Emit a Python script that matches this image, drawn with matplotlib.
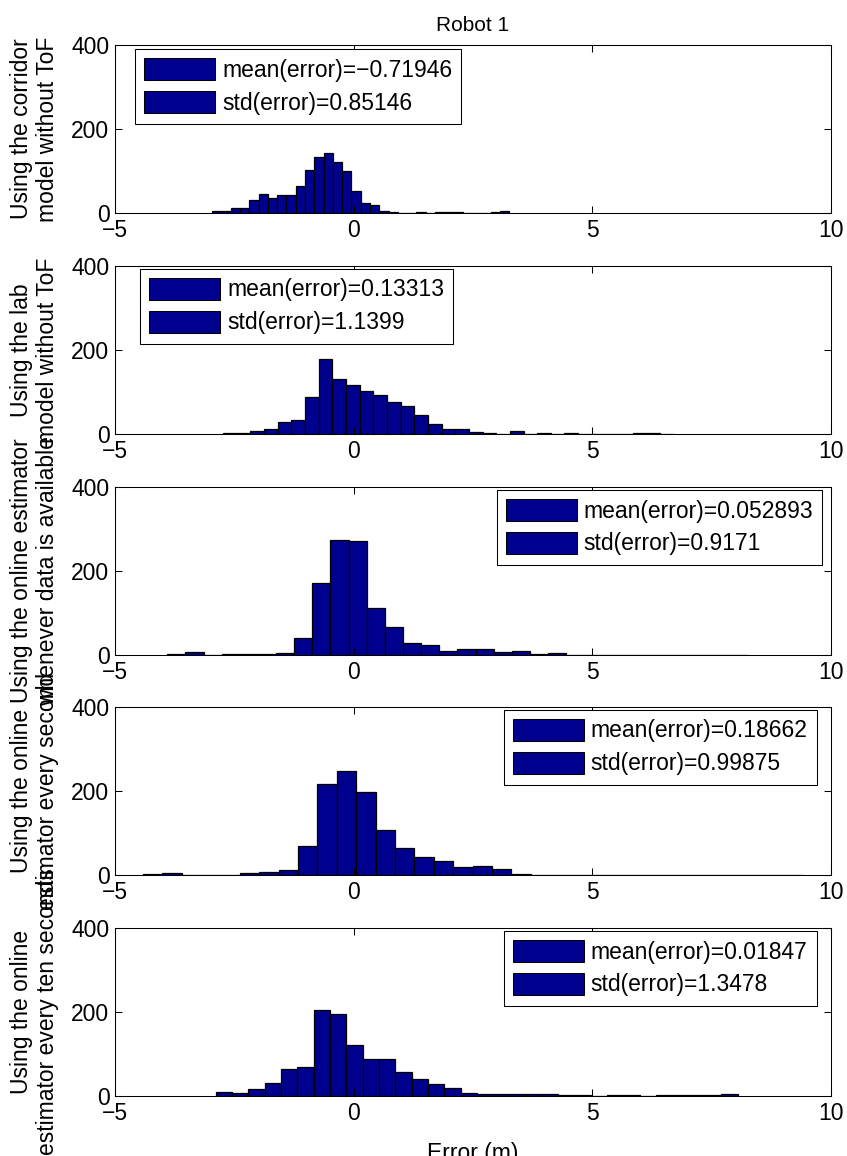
import matplotlib.pyplot as plt
from matplotlib.patches import Patch

plt.rcParams['font.family'] = ['Liberation Sans', 'DejaVu Sans']
plt.rcParams['font.size'] = 16.5
plt.rcParams['axes.linewidth'] = 0.75

# y labels of the five estimators
ylabels = ['Using the corridor\nmodel without ToF',
           'Using the lab\nmodel without ToF',
           'Using the online estimator\nwhenever data is available',
           'Using the online\nestimator every second',
           'Using the online\nestimator every ten seconds']

# histogram bins: left edge of first bin and bin width (m)
bin_start = [-2.965, -2.734, -3.906, -4.42, -2.887]
bin_width = [0.1945, 0.286, 0.380, 0.4066, 0.3417]

# counts per bin
counts_corridor = [5, 4, 13, 13, 30, 46, 37, 44, 44, 64, 103, 133, 142, 121, 101, 52,
                   25, 18, 5, 2, 1, 1, 2, 1, 3, 2, 2, 1, 0, 0, 2, 5]
counts_lab = [2, 3, 8, 13, 28, 33, 89, 178, 130, 116, 102, 93, 77, 66, 46, 24,
              11, 11, 4, 3, 1, 8, 0, 2, 0, 2, 0, 0, 0, 0, 3, 3, 1]
counts_online = [3, 6, 1, 3, 3, 3, 5, 40, 171, 274, 271, 111, 67, 28, 23, 9,
                 14, 14, 6, 9, 3, 4, 1, 0, 1, 0, 0, 0, 0, 0, 1, 1]
counts_1s = [3, 4, 0, 0, 1, 4, 6, 13, 70, 217, 248, 197, 106, 65, 44, 33,
             19, 21, 14, 3, 1, 0, 0, 0, 0, 0, 0, 0, 0, 0, 0, 0, 1, 1]
counts_10s = [9, 7, 17, 31, 64, 68, 206, 195, 122, 87, 89, 57, 41, 28, 19, 8,
              4, 5, 4, 5, 5, 3, 2, 0, 3, 3, 0, 3, 3, 3, 3, 5]
all_counts = [counts_corridor, counts_lab, counts_online, counts_1s, counts_10s]

means = ['\u22120.71946', '0.13313', '0.052893', '0.18662', '0.01847']
stds = ['0.85146', '1.1399', '0.9171', '0.99875', '1.3478']

bar_color = '#00008F'

fig = plt.figure(figsize=(8.47, 11.56), dpi=100)

left, width, height = 0.1358, 0.8453, 0.1453
bottoms = [0.8157, 0.6246, 0.4334, 0.2431, 0.0519]
leg_loc = ['upper left', 'upper left', 'upper right', 'upper right', 'upper right']
leg_anchor = [(0.028, 0.975), (0.035, 0.985), (0.988, 0.985), (0.98, 0.985), (0.98, 0.985)]

for i in range(5):
    ax = fig.add_axes([left, bottoms[i], width, height])
    cnt = all_counts[i]
    edges = [bin_start[i] + k * bin_width[i] for k in range(len(cnt))]
    ax.bar(edges, cnt, width=bin_width[i], align='edge', color=bar_color,
           edgecolor='black', linewidth=0.9)
    ax.set_xlim(-5, 10)
    ax.set_ylim(0, 400)
    ax.set_xticks([-5, 0, 5, 10])
    ax.set_yticks([0, 200, 400])
    ax.tick_params(direction='in', top=True, right=True, length=5, width=0.75, pad=4)
    ax.set_ylabel(ylabels[i])
    ax.yaxis.set_label_coords(-0.078, 0.5)

    handles = [Patch(facecolor=bar_color, edgecolor='black', linewidth=0.75)] * 2
    names = ['mean(error)=' + means[i], 'std(error)=' + stds[i]]
    leg = ax.legend(handles, names, loc=leg_loc[i], bbox_to_anchor=leg_anchor[i],
                    fancybox=False, edgecolor='black', framealpha=1,
                    handlelength=3.1, handleheight=1.1, labelspacing=0.4,
                    borderpad=0.4, handletextpad=0.3, borderaxespad=0)
    leg.get_frame().set_linewidth(0.75)

    if i == 0:
        ax.set_title('Robot 1', fontsize=15, pad=10)
    if i == 4:
        ax.set_xlabel('Error (m)')
        ax.xaxis.set_label_coords(0.5, -0.275)

plt.savefig('out.png', dpi=100)
